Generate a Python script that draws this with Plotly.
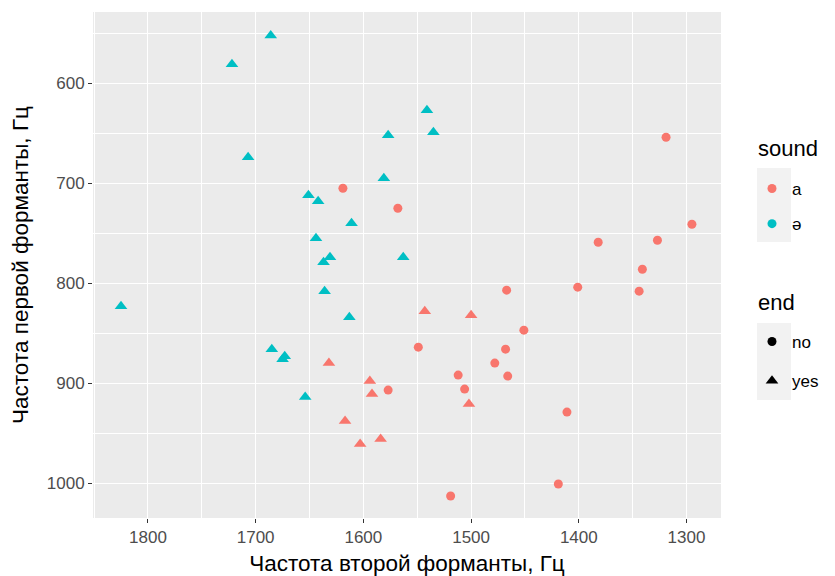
import plotly.graph_objects as go

# ---- data (F2 = second formant, F1 = first formant), Hz ----
# sound "ə", end "yes"
schwa_yes_f2 = [1686, 1722, 1541, 1535, 1577, 1707, 1581, 1651, 1642, 1611,
                1644, 1631, 1563, 1637, 1636, 1825, 1613, 1685, 1675, 1673, 1654]
schwa_yes_f1 = [552, 581, 627, 649, 652, 674, 695, 712, 718, 740,
                755, 774, 774, 779, 808, 823, 834, 866, 876, 873, 914]
# sound "a", end "no"
a_no_f2 = [1619, 1568, 1319, 1295, 1382, 1327, 1577, 1341, 1401, 1467, 1344,
           1451, 1549, 1468, 1478, 1512, 1466, 1506, 1411, 1419, 1519]
a_no_f1 = [705, 725, 654, 741, 759, 757, 907, 786, 804, 807, 808,
           847, 864, 866, 880, 892, 893, 906, 929, 1001, 1013]
# sound "a", end "yes"
a_yes_f2 = [1632, 1594, 1592, 1617, 1584, 1603, 1543, 1500, 1502]
a_yes_f1 = [880, 898, 911, 938, 956, 961, 828, 832, 921]

sound_labels = ["a", "ə"]
end_labels = ["no", "yes"]
x_ticks = [1800, 1700, 1600, 1500, 1400, 1300]
y_ticks = [600, 700, 800, 900, 1000]

RED = "#F8766D"
TEAL = "#00BFC4"
FONT = "Liberation Sans, Arial, sans-serif"

fig = go.Figure()

def pts(x, y, color, symbol, size):
    fig.add_trace(go.Scatter(
        x=x, y=y, mode="markers", showlegend=False, hoverinfo="x+y",
        marker=dict(color=color, symbol=symbol, size=size, line=dict(width=0))))

pts(a_no_f2, a_no_f1, RED, "circle", 9)
pts(a_yes_f2, a_yes_f1, RED, "triangle-up", 11)
pts(schwa_yes_f2, schwa_yes_f1, TEAL, "triangle-up", 11)

# legend entries
for lab, col in zip(sound_labels, [RED, TEAL]):
    fig.add_trace(go.Scatter(x=[None], y=[None], mode="markers", name=lab,
                             legend="legend", legendgroup="s" + lab,
                             marker=dict(color=col, symbol="circle", size=9)))
for lab, sym, sz in zip(end_labels, ["circle", "triangle-up"], [9, 11]):
    fig.add_trace(go.Scatter(x=[None], y=[None], mode="markers", name=lab,
                             legend="legend2", legendgroup="e" + lab,
                             marker=dict(color="black", symbol=sym, size=sz)))

# page offset (browser body margin) compensation
OX, OY = 8, 8
W, H = 835 - OX, 576 - OY
L, T = 93 - OX, 12 - OY
pw, ph = 628, 506
R, B = W - L - pw, H - T - ph

def px(xp):  # reference-screen x -> paper
    return (xp - OX - L) / pw

def py(yp):  # reference-screen y -> paper
    return (T + ph - (yp - OY)) / ph

# grey key backgrounds
for y0, y1 in [(168, 242), (323, 400)]:
    fig.add_shape(type="rect", xref="paper", yref="paper",
                  x0=px(757), x1=px(791), y0=py(y1), y1=py(y0),
                  fillcolor="#F2F2F2", line=dict(width=0), layer="below")

# legend titles
for txt, yy in [("sound", 148), ("end", 302)]:
    fig.add_annotation(text=txt, xref="paper", yref="paper", x=px(756), y=py(yy),
                       xanchor="left", yanchor="middle", showarrow=False,
                       font=dict(family=FONT, size=22, color="black"))

axis_common = dict(
    showgrid=True, gridcolor="white", gridwidth=1.3,
    ticks="outside", ticklen=4, tickwidth=1.1, tickcolor="#333333",
    tickfont=dict(family=FONT, size=17, color="#4D4D4D"),
    showline=False, zeroline=False, automargin=False,
    minor=dict(showgrid=True, gridcolor="white", gridwidth=0.6),
)

fig.update_layout(
    width=W, height=H,
    margin=dict(l=L, r=R, t=T, b=B, pad=0),
    paper_bgcolor="white", plot_bgcolor="#EBEBEB",
    font=dict(family=FONT, color="black"),
    xaxis=dict(range=[1851, 1268], tickvals=x_ticks,
               title=dict(text="Частота второй форманты, Гц",
                          font=dict(family=FONT, size=22.5, color="black"), standoff=11),
               **axis_common),
    yaxis=dict(range=[1035, 528.6], tickvals=y_ticks,
               title=dict(text="Частота первой форманты, Гц",
                          font=dict(family=FONT, size=22.5, color="black"), standoff=14),
               **axis_common),
    legend=dict(font=dict(size=17, family=FONT), bgcolor="rgba(0,0,0,0)",
                x=px(752), xanchor="left", y=py(171), yanchor="top",
                tracegroupgap=10, traceorder="grouped", itemwidth=30),
    legend2=dict(font=dict(size=17, family=FONT), bgcolor="rgba(0,0,0,0)",
                 x=px(752), xanchor="left", y=py(324), yanchor="top",
                 tracegroupgap=14, traceorder="grouped", itemwidth=30),
)
fig.update_xaxes(minor_dtick=50)
fig.update_yaxes(minor_dtick=50)

fig.write_html("out.html")
